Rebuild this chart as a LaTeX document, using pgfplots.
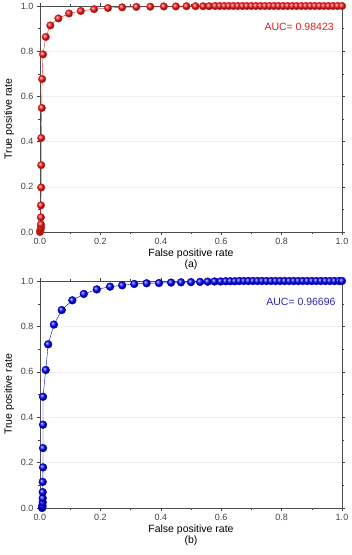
\documentclass[border=0pt]{standalone}
\usepackage{pgfplots}
\pgfplotsset{compat=1.18}
\usepackage{fontspec}
\setmainfont{Liberation Sans}
\definecolor{aucred}{RGB}{220,30,30}
\definecolor{aucblue}{RGB}{40,40,170}
\pgfplotsset{
  rocax/.style={
    scale only axis, width=302pt, height=226pt,
    xmin=0, xmax=1, ymin=0, ymax=1,
    xtick={0,0.2,...,1.0}, ytick={0,0.2,...,1.0},
    minor tick num=1,
    tick align=outside,
    tick style={gray!50!black, thin},
    major tick length=3pt, minor tick length=2pt,
    axis line style={gray!60!black, thin},
    ymajorgrids, major grid style={gray!12, thin},
    xticklabel style={/pgf/number format/fixed,/pgf/number format/fixed zerofill,/pgf/number format/precision=1},
    yticklabel style={/pgf/number format/fixed,/pgf/number format/fixed zerofill,/pgf/number format/precision=1},
    /pgf/number format/assume math mode=true,
    tick label style={font=\fontsize{9}{10}\selectfont, text=black!75},
    label style={font=\fontsize{10.5}{11}\selectfont},
    ylabel={True positive rate},
    xlabel style={align=center, yshift=3pt},
    ylabel style={yshift=0pt},
    clip=false,
  }
}
\begin{document}
\begin{tikzpicture}
\useasboundingbox (-40pt,-47pt) rectangle (312pt,508pt);
% top (a)
\begin{axis}[rocax, at={(0pt,276pt)}, anchor=south west,
  xlabel={False positive rate\\(a)}]
\addplot[aucred, thin, mark=ball, mark size=3.8pt, mark options={ball color=red!90!white}] coordinates {
(0,0) (0.001,0.005) (0.002,0.012) (0.003,0.021) (0.003,0.034) (0.003,0.065)
(0.003,0.118) (0.004,0.197) (0.004,0.296) (0.004,0.416) (0.006,0.549)
(0.007,0.677) (0.010,0.786) (0.019,0.863) (0.034,0.914) (0.061,0.945)
(0.096,0.967) (0.135,0.978) (0.179,0.986) (0.225,0.991) (0.272,0.994)
(0.319,0.996) (0.365,0.997) (0.410,0.998) (0.450,0.998) (0.485,0.999)
(0.515,0.999) (0.540,0.999) (0.560,0.999) (0.580,1.0) (0.595,1.0) (0.610,1.0)
(0.625,1.0) (0.640,1.0) (0.655,1.0) (0.670,1.0) (0.685,1.0) (0.700,1.0)
(0.715,1.0) (0.730,1.0) (0.745,1.0) (0.760,1.0) (0.775,1.0) (0.790,1.0)
(0.805,1.0) (0.820,1.0) (0.835,1.0) (0.850,1.0) (0.865,1.0) (0.880,1.0)
(0.895,1.0) (0.910,1.0) (0.925,1.0) (0.940,1.0) (0.955,1.0) (0.970,1.0)
(0.985,1.0) (1.0,1.0)
};
\node[text=aucred, font=\fontsize{10.5}{11}\selectfont] at (axis cs:0.858,0.907) {AUC= 0.98423};
\end{axis}
% bottom (b)
\begin{axis}[rocax, at={(0pt,0pt)}, anchor=south west, height=227pt,
  xlabel={False positive rate\\(b)}]
\addplot[blue!80!black, thin, mark=ball, mark size=3.9pt, mark options={ball color=blue}] coordinates {
(0.007,0) (0.008,0.005) (0.008,0.012) (0.009,0.025) (0.009,0.043) (0.009,0.070)
(0.009,0.115) (0.010,0.179) (0.010,0.264) (0.010,0.367) (0.010,0.490)
(0.019,0.608) (0.027,0.721) (0.046,0.808) (0.072,0.872) (0.107,0.915)
(0.145,0.943) (0.188,0.963) (0.232,0.975) (0.272,0.981) (0.312,0.987)
(0.353,0.990) (0.394,0.991) (0.434,0.993) (0.467,0.994) (0.500,0.995)
(0.530,0.996) (0.555,0.997) (0.578,0.998) (0.598,0.998) (0.615,0.999)
(0.630,0.999) (0.645,0.999) (0.660,1.0) (0.675,1.0) (0.690,1.0) (0.705,1.0)
(0.720,1.0) (0.735,1.0) (0.750,1.0) (0.765,1.0) (0.780,1.0) (0.795,1.0)
(0.810,1.0) (0.825,1.0) (0.840,1.0) (0.855,1.0) (0.870,1.0) (0.885,1.0)
(0.900,1.0) (0.915,1.0) (0.930,1.0) (0.945,1.0) (0.960,1.0) (0.975,1.0)
(0.990,1.0) (1.0,1.0)
};
\node[text=aucblue, font=\fontsize{10.5}{11}\selectfont] at (axis cs:0.864,0.907) {AUC= 0.96696};
\end{axis}
\end{tikzpicture}
\end{document}
